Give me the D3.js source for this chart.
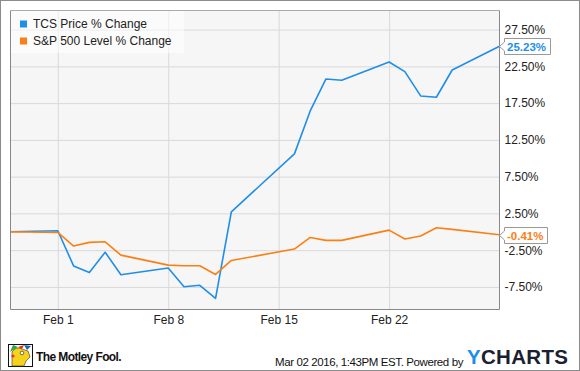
<!DOCTYPE html>
<html>
<head>
    <meta charset="utf-8">
    <title>TCS vs S&amp;P 500</title>
    <style>
        body { margin: 0; background: #fff; font-family: "Liberation Sans", Arial, sans-serif; }
        svg text { font-family: "Liberation Sans", Arial, sans-serif; }
        .grid line { stroke: #d9d9d9; stroke-width: 1px; }
        .axis text { font-size: 12px; fill: #222; }
    </style>
</head>
<body>
<div id="chart"></div>
<script src="https://cdnjs.cloudflare.com/ajax/libs/d3/7.8.5/d3.min.js"></script>
<script>
    // trading days shown on the chart
    const dates = ["2016-01-29", "2016-02-01", "2016-02-02", "2016-02-03", "2016-02-04", "2016-02-05",
        "2016-02-08", "2016-02-09", "2016-02-10", "2016-02-11", "2016-02-12",
        "2016-02-16", "2016-02-17", "2016-02-18", "2016-02-19",
        "2016-02-22", "2016-02-23", "2016-02-24", "2016-02-25", "2016-02-26", "2016-02-29"];
    const tcsValues = [0, 0.14, -4.64, -5.55, -2.78, -5.84, -4.93, -7.47, -7.28, -9.05, 2.72,
        10.6, 16.44, 20.79, 20.61, 23.1, 21.79, 18.48, 18.3, 22.01, 25.23];
    const spxValues = [0, -0.09, -1.94, -1.44, -1.36, -3.17, -4.53, -4.62, -4.62, -5.8, -3.9,
        -2.35, -0.77, -1.17, -1.17, 0.23, -0.99, -0.58, 0.54, 0.33, -0.41];
    const seriesNames = ["TCS Price % Change", "S&P 500 Level % Change"];
    const seriesColors = ["#1f8ee8", "#fb8013"];
    const xTickDates = ["2016-02-01", "2016-02-08", "2016-02-15", "2016-02-22"];
    const yTickValues = [27.5, 22.5, 17.5, 12.5, 7.5, 2.5, -2.5, -7.5];

    const W = 580, H = 371;
    const plot = {left: 10.5, right: 499.5, top: 10.5, bottom: 309.5};
    const parse = d3.timeParse("%Y-%m-%d");
    // plain hyphen for negatives, like the original
    const pct = d3.formatLocale({decimal: ".", thousands: ",", grouping: [3], currency: ["$", ""], minus: "-"})
        .format(".2f");

    const svg = d3.select("#chart").append("svg")
        .attr("width", W).attr("height", H);

    // outer frame
    svg.append("rect").attr("x", 0.5).attr("y", 0.5).attr("width", W - 1).attr("height", H - 1)
        .attr("fill", "#fff").attr("stroke", "#8c8c8c");

    const x = d3.scaleTime()
        .domain([parse("2016-01-29"), parse("2016-02-29")])
        .range([plot.left, plot.right]);
    const y = d3.scaleLinear()
        .domain([-10.57, 30.1])
        .range([plot.bottom, plot.top]);

    svg.append("rect")
        .attr("x", plot.left).attr("y", plot.top)
        .attr("width", plot.right - plot.left).attr("height", plot.bottom - plot.top)
        .attr("fill", "#f6f6f6");

    // grid lines
    svg.append("g").attr("class", "grid")
        .attr("transform", `translate(0,${plot.bottom})`)
        .call(d3.axisBottom(x).tickValues(xTickDates.map(parse))
            .tickSize(-(plot.bottom - plot.top)).tickFormat(""))
        .call(g => g.select(".domain").remove());
    svg.append("g").attr("class", "grid")
        .attr("transform", `translate(${plot.left},0)`)
        .call(d3.axisLeft(y).tickValues(yTickValues)
            .tickSize(-(plot.right - plot.left)).tickFormat(""))
        .call(g => g.select(".domain").remove());

    // axes labels
    svg.append("g").attr("class", "axis")
        .attr("transform", `translate(0,${plot.bottom})`)
        .call(d3.axisBottom(x).tickValues(xTickDates.map(parse))
            .tickSize(0).tickPadding(6).tickFormat(d3.timeFormat("%b %-d")))
        .call(g => g.select(".domain").remove())
        .selectAll("text").attr("font-size", 12);
    svg.append("g").attr("class", "axis")
        .attr("transform", `translate(${plot.right},0)`)
        .call(d3.axisRight(y).tickValues(yTickValues)
            .tickSize(0).tickPadding(5).tickFormat(d => pct(d) + "%"))
        .call(g => g.select(".domain").remove())
        .selectAll("text").attr("font-size", 12);

    // lines
    const line = d3.line()
        .x((d, i) => x(parse(dates[i])))
        .y(d => y(d));
    [tcsValues, spxValues].forEach((vals, k) => {
        svg.append("path")
            .datum(vals)
            .attr("fill", "none")
            .attr("stroke", seriesColors[k])
            .attr("stroke-width", 1.6)
            .attr("stroke-linejoin", "round")
            .attr("d", line);
    });

    // plot border
    svg.append("path")
        .attr("d", `M${plot.left},${plot.top}V${plot.bottom}H${plot.right}V${plot.top}`)
        .attr("fill", "none").attr("stroke", "#888");
    svg.append("line")
        .attr("x1", plot.left).attr("x2", plot.right)
        .attr("y1", plot.top).attr("y2", plot.top)
        .attr("stroke", "#aaa");

    // end-value flags
    [tcsValues, spxValues].forEach((vals, k) => {
        const last = vals[vals.length - 1];
        const cy = Math.round(y(last)) + 0.5;
        const g = svg.append("g");
        const bw = k === 0 ? 46 : 43;
        g.append("path")
            .attr("d", `M${plot.right},${cy} L${plot.right + 5},${cy - 4.5} V${cy - 8} H${plot.right + 5 + bw} V${cy + 8} H${plot.right + 5} V${cy + 4.5} Z`)
            .attr("fill", "#fff").attr("stroke", "#999");
        g.append("text")
            .attr("x", plot.right + 7.5).attr("y", cy + 4)
            .attr("font-size", 11.5).attr("font-weight", "bold")
            .attr("fill", seriesColors[k])
            .text(pct(last) + "%");
    });

    // legend
    const legend = svg.append("g");
    legend.append("rect")
        .attr("x", 11).attr("y", 11).attr("width", 173).attr("height", 42)
        .attr("fill", "#fff").attr("fill-opacity", 0.55);
    seriesNames.forEach((name, i) => {
        legend.append("rect")
            .attr("x", 20).attr("y", 20.5 + i * 17).attr("width", 7).attr("height", 7)
            .attr("fill", seriesColors[i]);
        legend.append("text")
            .attr("x", 33).attr("y", 28 + i * 17)
            .attr("font-size", 12).attr("fill", "#222")
            .text(name);
    });

    // footer: Motley Fool mark
    const logo = svg.append("g");
    logo.append("rect").attr("x", 8.5).attr("y", 344.5).attr("width", 24).attr("height", 22)
        .attr("fill", "#fff").attr("stroke", "#111");
    logo.append("path").attr("d", "M12,366 L12,352 Q16,346 22,349 L28,351 L30,357 L26,361 L24,366 Z")
        .attr("fill", "#f7d21c").attr("stroke", "#333").attr("stroke-width", 0.6);
    logo.append("path").attr("d", "M10,352 L13,345 L18,347 Z").attr("fill", "#2aa84a");
    logo.append("path").attr("d", "M18,347 L24,345 L22,349 Z").attr("fill", "#d8262a");
    logo.append("path").attr("d", "M24,345 L31,346 L27,350 Z").attr("fill", "#2a5db0");
    logo.append("circle").attr("cx", 22).attr("cy", 353).attr("r", 1.8).attr("fill", "#fff").attr("stroke", "#222").attr("stroke-width", 0.6);
    logo.append("circle").attr("cx", 13).attr("cy", 356).attr("r", 1.6).attr("fill", "#e33");
    logo.append("text").attr("x", 36).attr("y", 360.5)
        .attr("font-size", 12).attr("font-weight", "bold").attr("fill", "#111")
        .attr("letter-spacing", -0.6)
        .text("The Motley Fool.");

    // footer: timestamp and YCharts mark
    svg.append("text").attr("x", 463).attr("y", 366)
        .attr("text-anchor", "end").attr("font-size", 11.5).attr("fill", "#111")
        .attr("letter-spacing", -0.4)
        .text("Mar 02 2016, 1:43PM EST.  Powered by");
    const yc = svg.append("text").attr("x", 467).attr("y", 363.5)
        .attr("font-size", 20.5).attr("font-weight", "bold").attr("letter-spacing", 0.3);
    yc.append("tspan").attr("fill", "#1f8ee8").text("Y");
    yc.append("tspan").attr("fill", "#1b2030").text("CHARTS");
</script>
</body>
</html>
